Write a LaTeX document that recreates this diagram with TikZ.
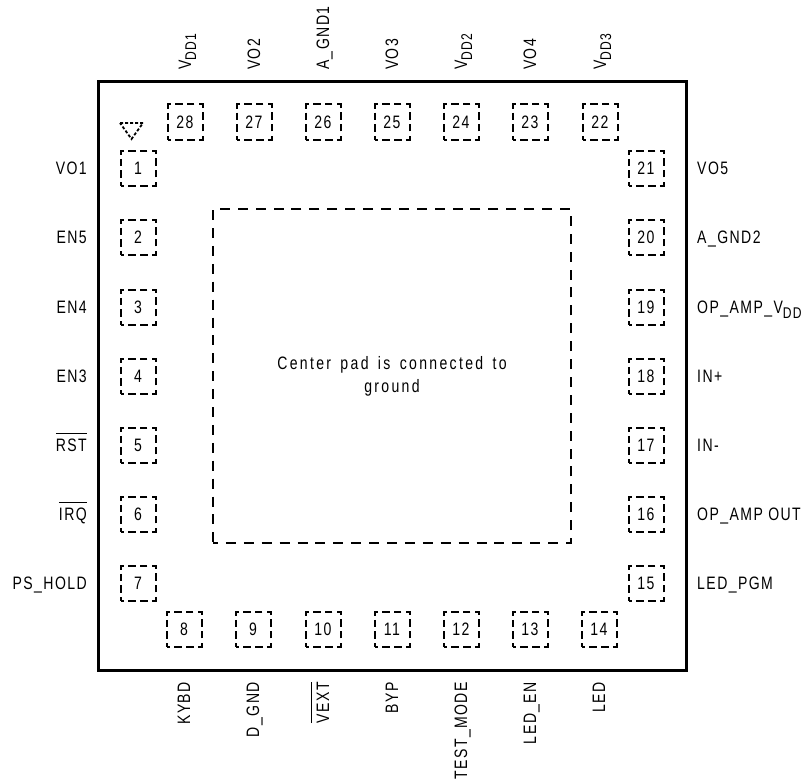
\documentclass[tikz,border=0pt]{standalone}
\usepackage{fontspec}
\setmainfont[FakeStretch=0.78,LetterSpace=8]{Liberation Sans}
\newfontfamily\centerfont[FakeStretch=0.78,LetterSpace=13,WordSpace=1.5]{Liberation Sans}
\usetikzlibrary{arrows,shapes}
\tikzstyle{pad}=[rectangle,draw,line width=2pt,dash pattern=on 7.5pt off 4.2pt,dash phase=3.75pt,minimum size=35pt,inner sep=0pt,font=\fontsize{18}{18}\selectfont]
\tikzstyle{centerpad}=[rectangle,draw,line width=2.5pt,dash pattern=on 10pt off 7.9pt,dash phase=5pt,minimum width=358pt,minimum height=334pt,inner sep=0pt,align=center,font=\fontsize{18}{23}\centerfont]
\tikzstyle{pinname}=[inner sep=0pt,font=\fontsize{18}{18}\selectfont]
\newcommand{\sublabel}[1]{\raisebox{-5pt}{\fontsize{15.5}{16}\selectfont #1}}
\newcommand{\barlabel}[1]{$\overline{\mbox{\rule{0pt}{16pt}#1}}$}
\begin{document}
\begin{tikzpicture}[x=1pt,y=-1pt]
    \useasboundingbox (0,0) rectangle (810,781);

    \node[rectangle,draw,line width=3pt,minimum width=588pt,minimum height=588pt] (body) at (392,376) {};
    \node[centerpad] (center) at (392,376) {Center pad is connected to\\ground};

    % left side
    \foreach \y/\name/\label in {168/1/VO1, 237/2/EN5, 307/3/EN4, 376/4/EN3, 445/5/{\barlabel{RST}}, 514/6/{\barlabel{IRQ}}, 583/7/PS\_HOLD}
    {
        \node[pad] (pad\name) at (138,\y) {\name};
        \node[pinname, anchor=base east] (pin\name) at (87,\y+6) {\label};
    }

    % right side
    \foreach \y/\name/\label in {168/21/VO5, 237/20/A\_GND2, 307/19/OP\_AMP\_V\sublabel{DD}, 376/18/IN+, 445/17/IN-, 514/16/OP\_AMP OUT, 583/15/LED\_PGM}
    {
        \node[pad] (pad\name) at (646,\y) {\name};
        \node[pinname, anchor=base west] (pin\name) at (697,\y+6) {\label};
    }

    % top side
    \foreach \x/\name/\label in {185/28/V\sublabel{DD1}, 254/27/VO2, 323/26/A\_GND1, 392/25/VO3, 461/24/V\sublabel{DD2}, 530/23/VO4, 600/22/V\sublabel{DD3}}
    {
        \node[pad] (pad\name) at (\x,122) {\name};
        \node[pinname, rotate=90, anchor=base west] (pin\name) at (\x+6,70) {\label};
    }

    % bottom side
    \foreach \x/\name/\label in {184/8/KYBD, 253/9/D\_GND, 323/10/{\barlabel{VEXT}}, 392/11/BYP, 461/12/TEST\_MODE, 530/13/LED\_EN, 599/14/LED}
    {
        \node[pad] (pad\name) at (\x,629) {\name};
        \node[pinname, rotate=90, anchor=base east] (pin\name) at (\x+6,682) {\label};
    }

    % pin 1 mark
    \draw[line width=1.8pt, dash pattern=on 3pt off 2pt] (120,123) -- (143,123) -- (131.5,139) -- cycle;
\end{tikzpicture}
\end{document}
